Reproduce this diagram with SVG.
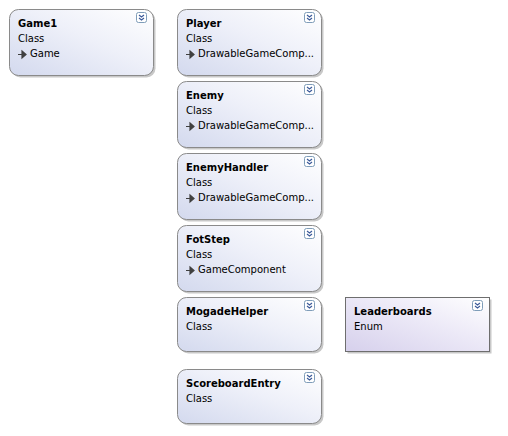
<svg xmlns="http://www.w3.org/2000/svg" width="508" height="436" viewBox="0 0 508 436">
<defs>
<linearGradient id="gc" x1="0" y1="1" x2="1" y2="0">
<stop offset="0" stop-color="#d3d9ee"/>
<stop offset="0.55" stop-color="#eef0f9"/>
<stop offset="1" stop-color="#ffffff"/>
</linearGradient>
<linearGradient id="ge" x1="0" y1="1" x2="1" y2="0">
<stop offset="0" stop-color="#d6d0ec"/>
<stop offset="0.55" stop-color="#ece9f7"/>
<stop offset="1" stop-color="#ffffff"/>
</linearGradient>
<g id="ico">
<rect x="0.5" y="0.5" width="10" height="10" rx="2" fill="#ffffff" stroke="#7f9db9"/>
<path d="M3 3 L5.5 5 L8 3 M3 6 L5.5 8 L8 6" fill="none" stroke="#3c5a9a" stroke-width="1.2"/>
</g>
<path id="arr" d="M0 4 H6 M4 0.5 L8 4 L4 7.5 Z" stroke="#404040" fill="#404040" stroke-width="1.2"/>
</defs>
<style>
.sh{fill:#c8c8c8}
.bx{fill:url(#gc);stroke:#8a8a8a;stroke-width:1}
.be{fill:url(#ge);stroke:#6e6e6e;stroke-width:1}
.t{font-family:"DejaVu Sans",sans-serif;font-size:10px;font-weight:bold;fill:#000}
.s{font-family:"DejaVu Sans",sans-serif;font-size:10px;fill:#000}
</style>
<rect width="508" height="436" fill="#ffffff"/>
<g id="connectors"></g>
<g id="Game1">
<rect class="sh" x="11.5" y="11.5" width="144" height="66" rx="9"/>
<rect class="bx" x="9.5" y="9.5" width="144" height="66" rx="9"/>
<text class="t" x="18" y="27">Game1</text>
<text class="s" x="18" y="42">Class</text>
<use href="#arr" x="18" y="50.5"/>
<text class="s" x="30" y="57">Game</text>
<use href="#ico" x="136" y="12"/>
</g>
<g id="Player">
<rect class="sh" x="179.5" y="11.5" width="144" height="66" rx="9"/>
<rect class="bx" x="177.5" y="9.5" width="144" height="66" rx="9"/>
<text class="t" x="186" y="27">Player</text>
<text class="s" x="186" y="42">Class</text>
<use href="#arr" x="186" y="50.5"/>
<text class="s" x="198" y="57">DrawableGameComp...</text>
<use href="#ico" x="304" y="12"/>
</g>
<g id="Enemy">
<rect class="sh" x="179.5" y="83.5" width="144" height="66" rx="9"/>
<rect class="bx" x="177.5" y="81.5" width="144" height="66" rx="9"/>
<text class="t" x="186" y="99">Enemy</text>
<text class="s" x="186" y="114">Class</text>
<use href="#arr" x="186" y="122.5"/>
<text class="s" x="198" y="129">DrawableGameComp...</text>
<use href="#ico" x="304" y="84"/>
</g>
<g id="EnemyHandler">
<rect class="sh" x="179.5" y="155.5" width="144" height="66" rx="9"/>
<rect class="bx" x="177.5" y="153.5" width="144" height="66" rx="9"/>
<text class="t" x="186" y="171">EnemyHandler</text>
<text class="s" x="186" y="186">Class</text>
<use href="#arr" x="186" y="194.5"/>
<text class="s" x="198" y="201">DrawableGameComp...</text>
<use href="#ico" x="304" y="156"/>
</g>
<g id="FotStep">
<rect class="sh" x="179.5" y="227.5" width="144" height="66" rx="9"/>
<rect class="bx" x="177.5" y="225.5" width="144" height="66" rx="9"/>
<text class="t" x="186" y="243">FotStep</text>
<text class="s" x="186" y="258">Class</text>
<use href="#arr" x="186" y="266.5"/>
<text class="s" x="198" y="273">GameComponent</text>
<use href="#ico" x="304" y="228"/>
</g>
<g id="MogadeHelper">
<rect class="sh" x="179.5" y="299.5" width="144" height="54" rx="9"/>
<rect class="bx" x="177.5" y="297.5" width="144" height="54" rx="9"/>
<text class="t" x="186" y="315">MogadeHelper</text>
<text class="s" x="186" y="330">Class</text>
<use href="#ico" x="304" y="300"/>
</g>
<g id="Leaderboards">
<rect class="sh" x="347.5" y="299.5" width="144" height="54"/>
<rect class="be" x="345.5" y="297.5" width="144" height="54"/>
<text class="t" x="354" y="315">Leaderboards</text>
<text class="s" x="354" y="330">Enum</text>
<use href="#ico" x="472" y="300"/>
</g>
<g id="ScoreboardEntry">
<rect class="sh" x="179.5" y="371.5" width="144" height="54" rx="9"/>
<rect class="bx" x="177.5" y="369.5" width="144" height="54" rx="9"/>
<text class="t" x="186" y="387">ScoreboardEntry</text>
<text class="s" x="186" y="402">Class</text>
<use href="#ico" x="304" y="372"/>
</g>
</svg>
